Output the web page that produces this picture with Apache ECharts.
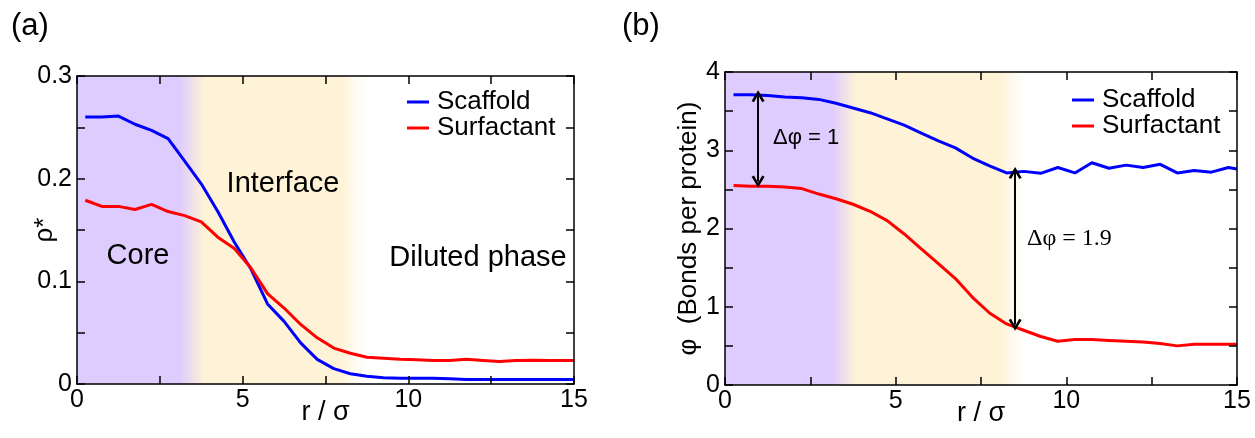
<!DOCTYPE html>
<html>
<head>
<meta charset="utf-8">
<script src="https://cdn.jsdelivr.net/npm/echarts@6/dist/echarts.min.js"></script>
<style>
html,body{margin:0;padding:0;background:#fff;}
#c{width:1255px;height:438px;}
</style>
</head>
<body>
<div id="c"></div>
<script>
// ---- data ----
const r = [0.25,0.75,1.25,1.75,2.25,2.75,3.25,3.75,4.25,4.75,5.25,5.75,6.25,6.75,7.25,7.75,8.25,8.75,9.25,9.75,10.25,10.75,11.25,11.75,12.25,12.75,13.25,13.75,14.25,14.75,15];
// panel (a): density rho*
const rhoScaffold = [0.260,0.260,0.261,0.253,0.247,0.239,0.217,0.195,0.168,0.138,0.112,0.078,0.061,0.040,0.024,0.015,0.010,0.0075,0.006,0.0055,0.0055,0.0055,0.005,0.0045,0.0045,0.0045,0.0045,0.0045,0.0045,0.0045,0.0045];
const rhoSurfactant = [0.179,0.173,0.173,0.170,0.175,0.168,0.164,0.158,0.143,0.132,0.113,0.088,0.074,0.058,0.045,0.035,0.030,0.026,0.025,0.024,0.0235,0.0228,0.023,0.024,0.023,0.022,0.023,0.0232,0.023,0.023,0.023];
// panel (b): bonds per protein phi
const phiScaffold = [3.71,3.71,3.70,3.68,3.67,3.65,3.60,3.54,3.48,3.40,3.32,3.22,3.12,3.03,2.90,2.80,2.71,2.73,2.705,2.78,2.71,2.84,2.77,2.81,2.78,2.82,2.71,2.74,2.72,2.78,2.76];
const phiSurfactant = [2.55,2.54,2.54,2.53,2.51,2.44,2.38,2.31,2.22,2.10,1.93,1.74,1.55,1.36,1.12,0.92,0.78,0.70,0.62,0.56,0.58,0.58,0.57,0.56,0.55,0.53,0.50,0.52,0.52,0.52,0.52];
const seriesNames = ['Scaffold','Surfactant'];
// region boundaries (r/sigma): core end, interface start, interface end, diluted start
const regionsA = [3.1, 3.85, 8.0, 9.0];
const regionsB = [3.15, 3.85, 8.1, 9.1];
// arrows in panel (b): [r, phi from, phi to]
const arrow1 = [0.97, 3.69, 2.60];
const arrow2 = [8.5, 2.71, 0.77];
const xTicks = {min:0, max:15, step:2.5};
const yTicksA = {min:0, max:0.3, step:0.05};
const yTicksB = {min:0, max:4, step:0.5};

const zip = (xs, ys) => xs.map((x,i)=>[x, ys[i]]);

const FONT = '"Liberation Sans", Arial, sans-serif';
const SERIF = '"Liberation Serif", "Times New Roman", serif';
const PURPLE = '#DFCCFE';
const YELLOW = '#FEF3D6';
const BLUE = '#0000FF';
const RED = '#FF0000';

function bgGradient(reg){
  const end = reg[3];
  return new echarts.graphic.LinearGradient(0,0,1,0,[
    {offset:0,color:PURPLE},
    {offset:reg[0]/end,color:PURPLE},
    {offset:reg[1]/end,color:YELLOW},
    {offset:reg[2]/end,color:YELLOW},
    {offset:1,color:'rgba(255,255,255,0)'}
  ]);
}

const grids = [
  {left:77, top:76, width:497, height:308},
  {left:725, top:72, width:512, height:313}
];

const tickCfg = {show:true, inside:true, length:8, lineStyle:{color:'#000', width:1.5}};
const lineCfg = {show:true, onZero:false, lineStyle:{color:'#000', width:1.5}};

function xAx(gi, pos){
  const main = pos === 'bottom';
  return {
    type:'value', gridIndex:gi, position:pos, min:xTicks.min, max:xTicks.max, interval:xTicks.step,
    z:10,
    name: main ? 'r / σ' : '', nameLocation:'middle', nameGap:15, nameMoveOverlap:false,
    nameTextStyle:{fontFamily:FONT, fontSize:27, color:'#000'},
    axisLine:lineCfg,
    axisTick:tickCfg,
    axisLabel:{show:main, fontFamily:FONT, fontSize:25, color:'#000', margin:4,
      formatter:v=> (Math.abs(v%5)<1e-9 ? String(v) : '')},
    splitLine:{show:false}
  };
}
function yAx(gi, pos, t, name, fmt, gap){
  const main = pos === 'left';
  return {
    type:'value', gridIndex:gi, position:pos, min:t.min, max:t.max, interval:t.step,
    z:10,
    name: main ? name : '', nameLocation:'middle', nameGap:gap, nameMoveOverlap:false,
    nameTextStyle:{fontFamily:FONT, fontSize:26, color:'#000'},
    axisLine:lineCfg,
    axisTick:tickCfg,
    axisLabel:{show:main, fontFamily:FONT, fontSize:25, color:'#000', margin:5, formatter:fmt},
    splitLine:{show:false}
  };
}
const fmtA = v => { const k=v*10; return Math.abs(k-Math.round(k))<1e-6 ? String(Math.round(k)/10) : ''; };
const fmtB = v => (Math.abs(v-Math.round(v))<1e-6 ? String(Math.round(v)) : '');

const chevron = 'path://M0,10 L6,0 L12,10 L9.8,11.2 L6,4.4 L2.2,11.2 Z';

function lineSeries(name, data, color, xi, yi){
  return {type:'line', name, data, xAxisIndex:xi, yAxisIndex:yi, showSymbol:false, symbol:'none',
    lineStyle:{color, width:3}, itemStyle:{color}, z:4, silent:true, animation:false};
}
function bgSeries(xi, yi, reg){
  return {type:'line', name:'bg'+xi, data:[], xAxisIndex:xi, yAxisIndex:yi, z:1, silent:true, animation:false,
    markArea:{silent:true, itemStyle:{color:bgGradient(reg)}, data:[[{xAxis:0},{xAxis:reg[3]}]]}};
}

const legendText = {fontFamily:FONT, fontSize:26, color:'#000', lineHeight:25, padding:[0,0,0,3]};

const chart = echarts.init(document.getElementById('c'), null, {renderer:'canvas'});
const option = {
  animation:false,
  backgroundColor:'#fff',
  grid: grids,
  xAxis:[xAx(0,'bottom'), xAx(0,'top'), xAx(1,'bottom'), xAx(1,'top')],
  yAxis:[
    yAx(0,'left',yTicksA,'ρ*',fmtA,19), yAx(0,'right',yTicksA,'',fmtA,0),
    yAx(1,'left',yTicksB,'φ  (Bonds per protein)',fmtB,23), yAx(1,'right',yTicksB,'',fmtB,0)
  ],
  legend:[
    {data:seriesNames, orient:'vertical', left:407, top:89, padding:0, icon:'rect', itemWidth:22, itemHeight:3, itemGap:0,
      textStyle:legendText, selectedMode:false},
    {data:seriesNames, orient:'vertical', left:1072, top:87, padding:0, icon:'rect', itemWidth:22, itemHeight:3, itemGap:0,
      textStyle:legendText, selectedMode:false}
  ],
  series:[
    bgSeries(0,0,regionsA),
    bgSeries(2,2,regionsB),
    lineSeries(seriesNames[0], zip(r, rhoScaffold), BLUE, 0, 0),
    lineSeries(seriesNames[1], zip(r, rhoSurfactant), RED, 0, 0),
    lineSeries(seriesNames[0], zip(r, phiScaffold), BLUE, 2, 2),
    lineSeries(seriesNames[1], zip(r, phiSurfactant), RED, 2, 2),
    {type:'line', name:'arrows', data:[], xAxisIndex:2, yAxisIndex:2, z:6, silent:true, animation:false,
      markLine:{silent:true, symbol:[chevron, chevron], symbolSize:[13,12],
        label:{show:false}, lineStyle:{color:'#000', width:2, type:'solid'},
        data:[
          [{coord:[arrow1[0], arrow1[1]]},{coord:[arrow1[0], arrow1[2]]}],
          [{coord:[arrow2[0], arrow2[1]]},{coord:[arrow2[0], arrow2[2]]}]
        ]}}
  ],
  graphic:[
    {type:'text', left:11, top:11, style:{text:'(a)', font:'31px '+FONT, fill:'#000'}},
    {type:'text', left:622, top:11, style:{text:'(b)', font:'31px '+FONT, fill:'#000'}},
    {type:'text', x:138, y:256, z:20, style:{text:'Core', font:'29px '+FONT, fill:'#000', align:'center', verticalAlign:'middle'}},
    {type:'text', x:283, y:184, z:20, style:{text:'Interface', font:'29px '+FONT, fill:'#000', align:'center', verticalAlign:'middle'}},
    {type:'text', x:478, y:258, z:20, style:{text:'Diluted phase', font:'29px '+FONT, fill:'#000', align:'center', verticalAlign:'middle'}},
    {type:'text', x:773, y:138, z:20, style:{text:'Δφ = 1', font:'22px '+FONT, fill:'#000', align:'left', verticalAlign:'middle'}},
    {type:'text', x:1027, y:239, z:20, style:{text:'Δφ = 1.9', font:'24px '+SERIF, fill:'#000', align:'left', verticalAlign:'middle'}}
  ]
};
chart.setOption(option);
</script>
</body>
</html>
